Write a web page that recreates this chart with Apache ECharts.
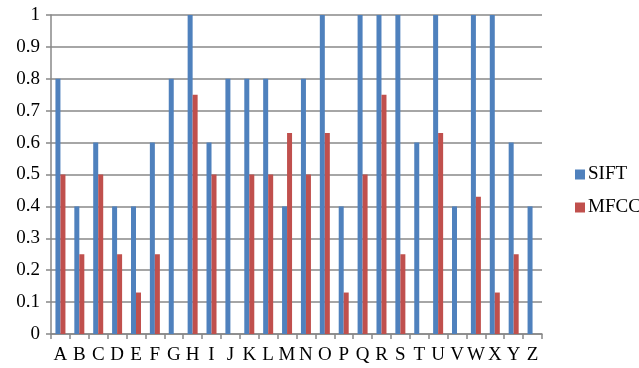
<!DOCTYPE html>
<html>
<head>
<meta charset="utf-8">
<script src="https://cdn.jsdelivr.net/npm/echarts@6/dist/echarts.min.js"></script>
<style>
  html, body { margin: 0; padding: 0; background: #fff; }
  #chart { width: 639px; height: 368px; }
</style>
</head>
<body>
<div id="chart"></div>
<script>
var categories = ["A","B","C","D","E","F","G","H","I","J","K","L","M","N","O","P","Q","R","S","T","U","V","W","X","Y","Z"];
var siftValues = [0.8,0.4,0.6,0.4,0.4,0.6,0.8,1,0.6,0.8,0.8,0.8,0.4,0.8,1,0.4,1,1,1,0.6,1,0.4,1,1,0.6,0.4];
var mfccValues = [0.5,0.25,0.5,0.25,0.13,0.25,0,0.75,0.5,0,0.5,0.5,0.63,0.5,0.63,0.13,0.5,0.75,0.25,0,0.63,0,0.43,0.13,0.25,0];

var chart = echarts.init(document.getElementById("chart"));
var fontFam = "Liberation Serif";

chart.setOption({
  animation: false,
  grid: { left: 51, right: 97, top: 15, bottom: 34 },
  legend: {
    orient: "vertical",
    left: 570,
    top: 160,
    itemWidth: 10,
    itemHeight: 10,
    itemGap: 14,
    icon: "rect",
    textStyle: { fontFamily: fontFam, fontSize: 19, color: "#000", padding: [0, 0, 0, -2] },
    data: ["SIFT", "MFCC"]
  },
  xAxis: {
    type: "category",
    data: categories,
    axisLine: { lineStyle: { color: "#888", width: 1.5 } },
    axisTick: { show: true, length: 5, lineStyle: { color: "#888", width: 1.5 } },
    axisLabel: { fontFamily: fontFam, fontSize: 19, color: "#000", margin: 12, interval: 0 }
  },
  yAxis: {
    type: "value",
    min: 0,
    max: 1,
    interval: 0.1,
    axisLine: { show: true, lineStyle: { color: "#888", width: 1.5 } },
    axisTick: { show: true, length: 5, lineStyle: { color: "#888", width: 1.5 } },
    splitLine: { lineStyle: { color: "#888", width: 1.5 } },
    axisLabel: { fontFamily: fontFam, fontSize: 19, color: "#000", margin: 11 }
  },
  series: [
    {
      name: "SIFT",
      type: "bar",
      data: siftValues,
      barWidth: 5,
      barGap: "0%",
      itemStyle: { color: "#4F81BD" }
    },
    {
      name: "MFCC",
      type: "bar",
      data: mfccValues,
      barWidth: 5,
      barGap: "0%",
      itemStyle: { color: "#C0504D" }
    }
  ]
});
</script>
</body>
</html>
